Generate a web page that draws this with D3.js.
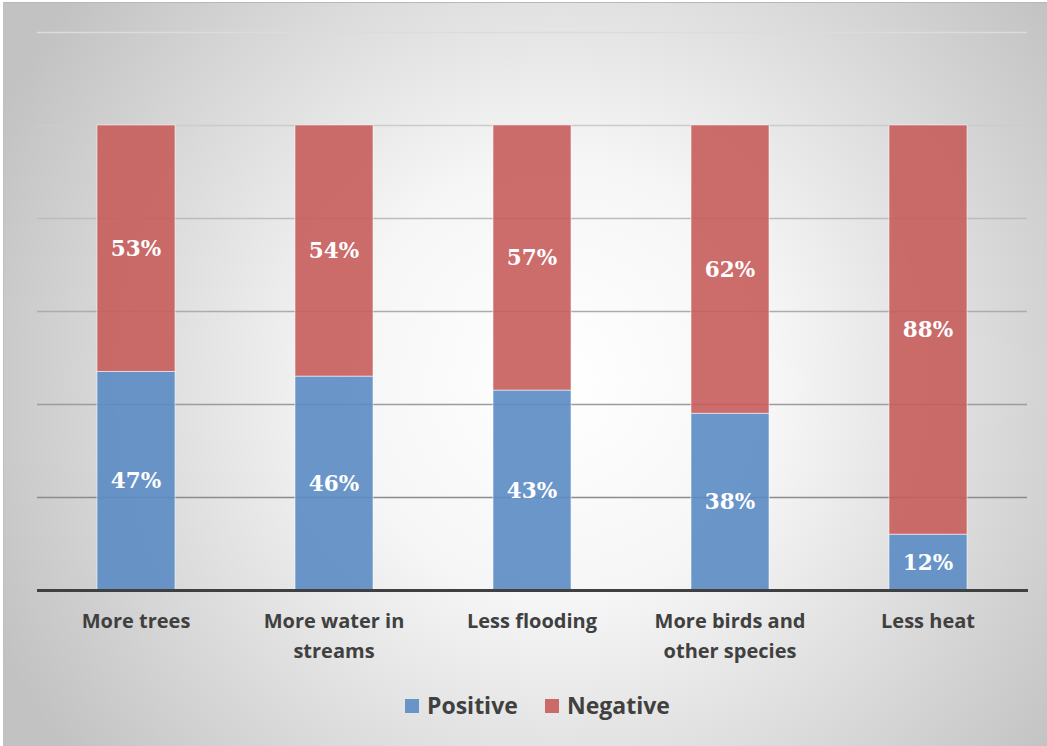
<!DOCTYPE html>
<html><head><meta charset="utf-8">
<script src="https://cdn.jsdelivr.net/npm/d3@7"></script>
<style>html,body{margin:0;padding:0;background:#fff;}svg{display:block;}</style>
</head><body>
<svg id="chart" width="1047" height="746"></svg>
<script>
const categories = ["More trees", "More water in streams", "Less flooding", "More birds and other species", "Less heat"];
const categoryLines = [["More trees"], ["More water in", "streams"], ["Less flooding"], ["More birds and", "other species"], ["Less heat"]];
const positive = [47, 46, 43, 38, 12];
const negative = [53, 54, 57, 62, 88];
const seriesNames = ["Positive", "Negative"];
const yTicks = [0, 20, 40, 60, 80, 100, 120];

const colors = {Positive: "#5b8bc4", Negative: "#c65c5b"};
const svg = d3.select("#chart");
const W = 1047, H = 746;

const defs = svg.append("defs");
const grad = defs.append("radialGradient").attr("id", "bg")
  .attr("gradientUnits", "userSpaceOnUse").attr("cx", 560).attr("cy", 380).attr("r", 620);
grad.append("stop").attr("offset", "0").attr("stop-color", "#ffffff");
grad.append("stop").attr("offset", "0.35").attr("stop-color", "#f6f6f6");
grad.append("stop").attr("offset", "1").attr("stop-color", "#c2c2c2");

svg.append("rect").attr("x", 3).attr("y", 2).attr("width", W - 3).attr("height", H - 2).attr("fill", "url(#bg)");
svg.append("line").attr("x1", 3).attr("x2", W).attr("y1", 2.5).attr("y2", 2.5).attr("stroke", "#b8b8b8").attr("stroke-width", 1);
svg.append("line").attr("x1", 3.5).attr("x2", 3.5).attr("y1", 2).attr("y2", H).attr("stroke", "#c0c0c0").attr("stroke-width", 1);

const x = d3.scaleBand().domain(categories).range([37, 1027]).paddingInner(0.606).paddingOuter(0.303);
const y = d3.scaleLinear().domain([0, 120]).range([590, 32]);
const gridColor = d3.scaleLinear().domain([20, 120]).range(["#8c8c8c", "#dcdcdc"]);

// gridlines
const yAxis = d3.axisLeft(y).tickValues(yTicks).tickSize(-(1027 - 37)).tickFormat("");
const gy = svg.append("g").attr("transform", "translate(37,0)").call(yAxis);
gy.select(".domain").remove();
gy.selectAll(".tick line").attr("stroke", d => gridColor(d)).attr("stroke-width", 1.3)
  .filter(d => d === 0).remove();

const data = categories.map((c, i) => ({cat: c, Positive: positive[i], Negative: negative[i]}));
const stack = d3.stack().keys(seriesNames)(data);

const layers = svg.append("g").selectAll("g").data(stack).join("g")
  .attr("fill", d => colors[d.key]);
layers.selectAll("rect").data(d => d).join("rect")
  .attr("x", d => x(d.data.cat))
  .attr("width", x.bandwidth())
  .attr("y", d => y(d[1]))
  .attr("height", d => y(d[0]) - y(d[1]))
  .attr("fill-opacity", 0.9)
  .attr("stroke", "rgba(255,255,255,0.55)").attr("stroke-width", 1);

// labels
layers.selectAll("text").data(d => d).join("text")
  .attr("x", d => x(d.data.cat) + x.bandwidth() / 2)
  .attr("y", d => (y(d[0]) + y(d[1])) / 2)
  .attr("dy", "0.36em")
  .attr("text-anchor", "middle")
  .attr("fill", "#ffffff")
  .attr("font-family", "'DejaVu Serif', 'Liberation Serif', serif")
  .attr("font-weight", "bold")
  .attr("font-size", 21.5)
  .text(d => Math.round(d[1] - d[0]) + "%");

// baseline
svg.append("line").attr("x1", 37).attr("x2", 1028).attr("y1", y(0) + 0.5).attr("y2", y(0) + 0.5)
  .attr("stroke", "#404040").attr("stroke-width", 3);

// category labels
const xAxis = d3.axisBottom(x).tickSize(0).tickFormat("");
const gx = svg.append("g").attr("transform", `translate(0,${y(0)})`).call(xAxis);
gx.select(".domain").remove();
gx.selectAll(".tick").each(function(d, i) {
  const t = d3.select(this).append("text")
    .attr("text-anchor", "middle")
    .attr("fill", "#404040")
    .attr("font-family", "'Open Sans', 'Lato', sans-serif")
    .attr("font-weight", "bold")
    .attr("font-size", 20);
  categoryLines[i].forEach((line, j) => {
    t.append("tspan").attr("x", 0).attr("y", 38 + j * 30).text(line);
  });
});

// legend
const legend = svg.append("g");
const legendItems = [{name: "Positive", x: 405}, {name: "Negative", x: 545}];
legendItems.forEach(it => {
  legend.append("rect").attr("x", it.x).attr("y", 699).attr("width", 14).attr("height", 14)
    .attr("fill", colors[it.name]).attr("fill-opacity", 0.9);
  legend.append("text").attr("x", it.x + 22).attr("y", 706).attr("dy", "0.36em")
    .attr("fill", "#404040").attr("font-family", "'Open Sans', 'Lato', sans-serif")
    .attr("font-weight", "bold").attr("font-size", 23).text(it.name);
});
</script>
</body></html>
